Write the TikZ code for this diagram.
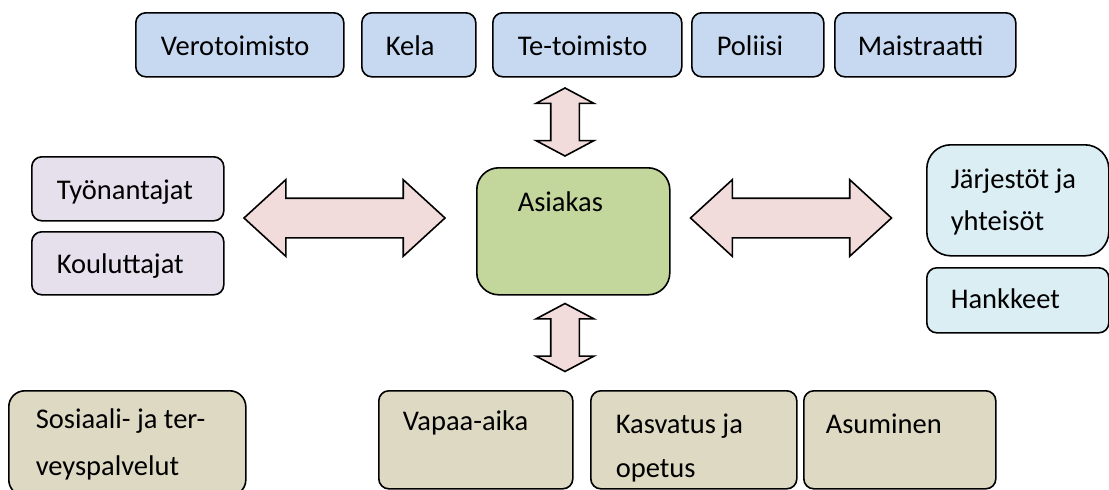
\documentclass[tikz,border=0pt]{standalone}
\usepackage{fontspec}
\setmainfont{Carlito}
\usetikzlibrary{shapes.arrows}

\definecolor{viranomainen}{HTML}{C6D9F1}
\definecolor{tyo}{HTML}{E5E0EC}
\definecolor{asiakasvihrea}{HTML}{C3D69B}
\definecolor{jarjesto}{HTML}{DBEEF4}
\definecolor{palvelu}{HTML}{DDD9C3}
\definecolor{nuoli}{HTML}{F2DCDB}

\begin{document}
\begin{tikzpicture}[
        x=1pt, y=-1pt,
        every node/.style={font=\fontsize{28.5pt}{44pt}\selectfont},
        box/.style={draw, line width=1.6pt, rounded corners=10pt, anchor=north west,
            inner ysep=0pt, align=flush left},
        dblarrow/.style={double arrow, draw, fill=nuoli, line width=1.6pt, inner xsep=0pt},
        hor/.style={dblarrow, minimum height=201pt, inner ysep=19pt,
            double arrow head extend=18.5pt, double arrow tip angle=85},
        ver/.style={dblarrow, rotate=90, minimum height=68pt, inner ysep=13.5pt,
            double arrow head extend=14.5pt, double arrow tip angle=124}
    ]
        \clip (0,0) rectangle (1109,490);

        % ylarivi: viranomaiset
        \node[box, fill=viranomainen, inner xsep=25pt, text width=158pt, text height=43pt, text depth=21pt]
            (vero) at (135,12) {Verotoimisto};
        \node[box, fill=viranomainen, inner xsep=24pt, text width=66pt, text height=43pt, text depth=21pt]
            (kela) at (361,12) {Kela};
        \node[box, fill=viranomainen, inner xsep=25pt, text width=139pt, text height=43pt, text depth=21pt]
            (teto) at (492,12) {Te-toimisto};
        \node[box, fill=viranomainen, inner xsep=25pt, text width=82pt, text height=43pt, text depth=21pt]
            (poliisi) at (691,12) {Poliisi};
        \node[box, fill=viranomainen, inner xsep=23pt, text width=135pt, text height=43pt, text depth=21pt]
            (maistr) at (834,12) {Maistraatti};

        % keskella asiakas
        \node[box, fill=asiakasvihrea, rounded corners=22pt, inner xsep=41pt, text width=111pt,
            text height=44pt, text depth=83pt] (asiakas) at (476,167) {Asiakas};

        % vasen ja oikea
        \node[box, fill=tyo, inner xsep=25pt, text width=142pt, text height=43pt, text depth=21pt]
            (tyon) at (31,156) {Työnantajat};
        \node[box, fill=tyo, inner xsep=25pt, text width=142pt, text height=42pt, text depth=21pt]
            (koul) at (31,231) {Kouluttajat};
        \node[box, fill=jarjesto, rounded corners=24pt, inner xsep=24pt, text width=134pt,
            text height=44pt, text depth=67pt, font=\fontsize{28.5pt}{42pt}\selectfont]
            (jarj) at (926,144) {Järjestöt ja\\yhteisöt};
        \node[box, fill=jarjesto, inner xsep=24pt, text width=134pt, text height=41pt, text depth=24pt]
            (hank) at (926,267) {Hankkeet};

        % alarivi: palvelut
        \node[box, fill=palvelu, rounded corners=16pt, inner xsep=27pt, text width=183pt,
            text height=38pt, text depth=67pt, font=\fontsize{28.5pt}{47pt}\selectfont]
            (sote) at (8,390) {Sosiaali- ja ter-\\veyspalvelut};
        \node[box, fill=palvelu, inner xsep=24pt, text width=146pt, text height=40pt, text depth=58pt]
            (vapaa) at (378,390) {Vapaa-aika};
        \node[box, fill=palvelu, inner xsep=25pt, text width=156pt, text height=43pt, text depth=55pt]
            (kasv) at (590,390) {Kasvatus ja\\opetus};
        \node[box, fill=palvelu, inner xsep=22pt, text width=148pt, text height=43pt, text depth=55pt]
            (asum) at (803,390) {Asuminen};

        % nuolet
        \node[hor] (nvasen) at (344.5,218) {};
        \node[hor] (noikea) at (791,218) {};
        \node[ver] (nyla) at (565,122) {};
        \node[ver] (nala) at (565,337.5) {};
    \end{tikzpicture}
\end{document}
